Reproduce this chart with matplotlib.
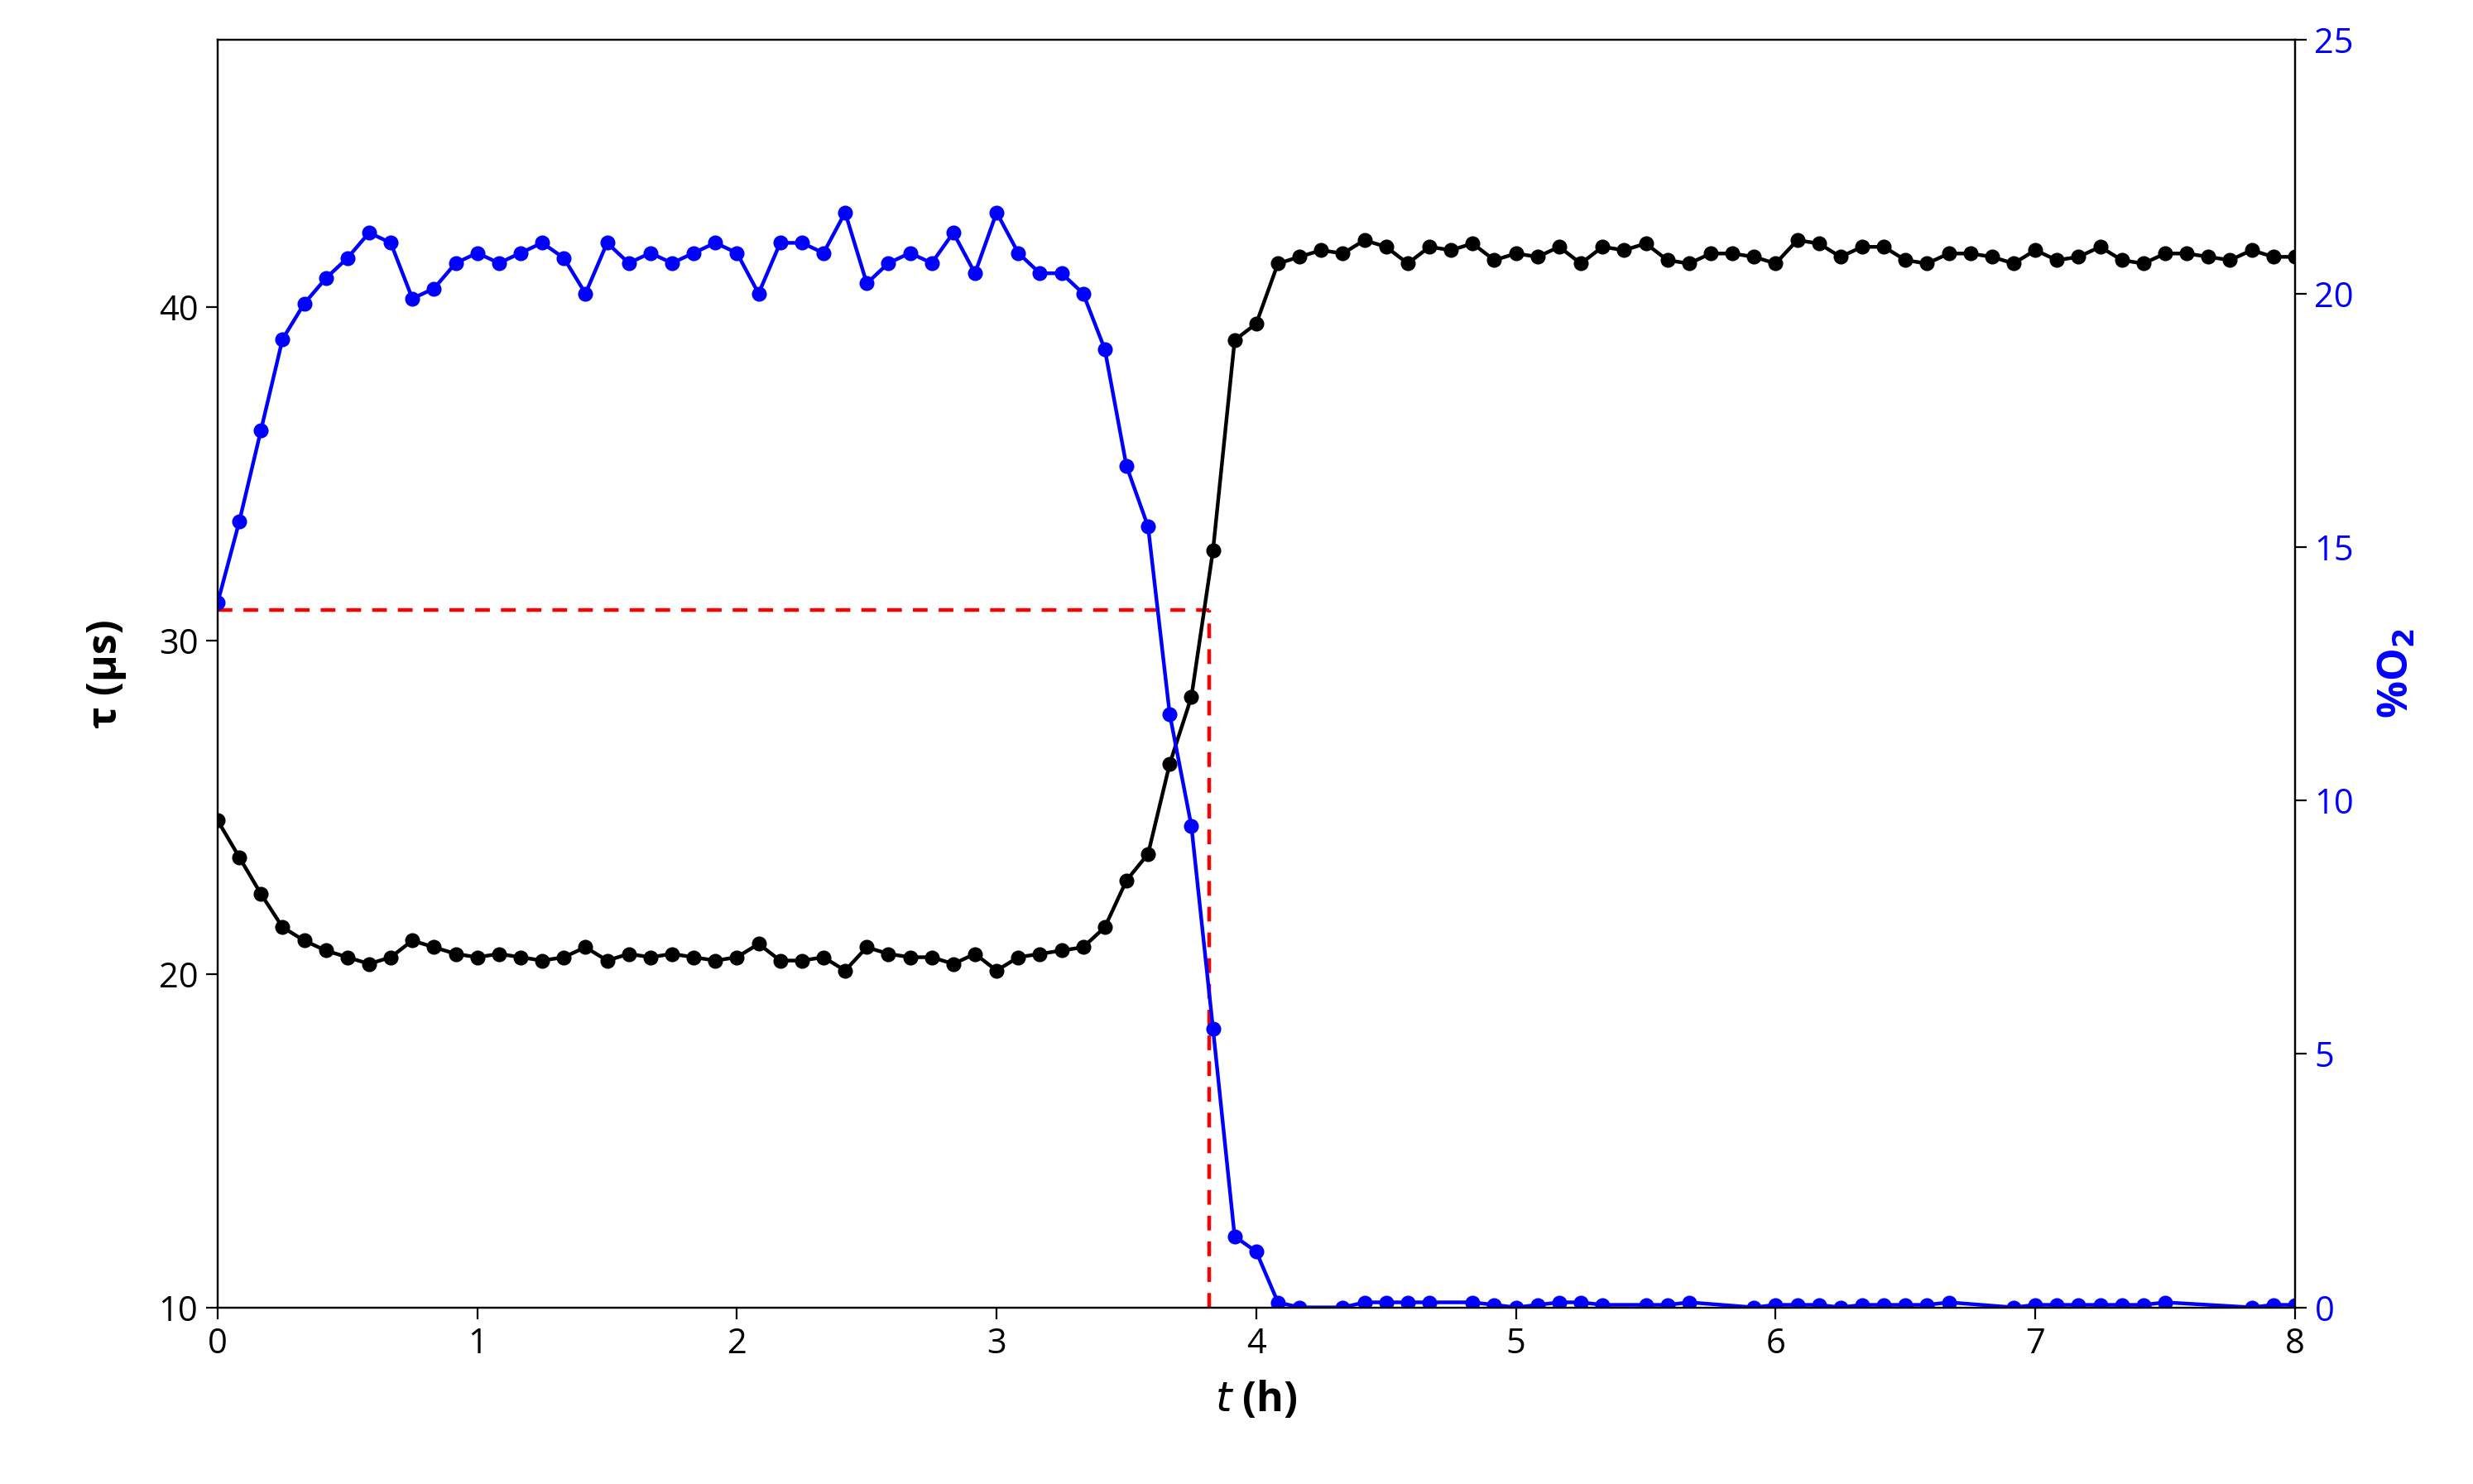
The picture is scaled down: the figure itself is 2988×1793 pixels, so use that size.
import matplotlib.pyplot as plt
import numpy as np

plt.rcParams['font.family'] = ['Open Sans', 'DejaVu Sans']

# time in hours, one reading every 5 min
t = np.arange(97) / 12.0

tau = [24.6, 23.5, 22.4, 21.4, 21.0, 20.7, 20.5, 20.3, 20.5, 21.0,
       20.8, 20.6, 20.5, 20.6, 20.5, 20.4, 20.5, 20.8, 20.4, 20.6,
       20.5, 20.6, 20.5, 20.4, 20.5, 20.9, 20.4, 20.4, 20.5, 20.1,
       20.8, 20.6, 20.5, 20.5, 20.3, 20.6, 20.1, 20.5, 20.6, 20.7,
       20.8, 21.4, 22.8, 23.6, 26.3, 28.3, 32.7, 39.0, 39.5, 41.3,
       41.5, 41.7, 41.6, 42.0, 41.8, 41.3, 41.8, 41.7, 41.9, 41.4,
       41.6, 41.5, 41.8, 41.3, 41.8, 41.7, 41.9, 41.4, 41.3, 41.6,
       41.6, 41.5, 41.3, 42.0, 41.9, 41.5, 41.8, 41.8, 41.4, 41.3,
       41.6, 41.6, 41.5, 41.3, 41.7, 41.4, 41.5, 41.8, 41.4, 41.3,
       41.6, 41.6, 41.5, 41.4, 41.7, 41.5, 41.5]

nan = np.nan
o2 = [13.9, 15.5, 17.3, 19.1, 19.8, 20.3, 20.7, 21.2, 21.0, 19.9,
      20.1, 20.6, 20.8, 20.6, 20.8, 21.0, 20.7, 20.0, 21.0, 20.6,
      20.8, 20.6, 20.8, 21.0, 20.8, 20.0, 21.0, 21.0, 20.8, 21.6,
      20.2, 20.6, 20.8, 20.6, 21.2, 20.4, 21.6, 20.8, 20.4, 20.4,
      20.0, 18.9, 16.6, 15.4, 11.7, 9.5, 5.5, 1.4, 1.1, 0.1,
      0.0, nan, 0.0, 0.1, 0.1, 0.1, 0.1, nan, 0.1, 0.05,
      0.0, 0.05, 0.1, 0.1, 0.05, nan, 0.05, 0.05, 0.1, nan,
      nan, 0.0, 0.05, 0.05, 0.05, 0.0, 0.05, 0.05, 0.05, 0.05,
      0.1, nan, nan, 0.0, 0.05, 0.05, 0.05, 0.05, 0.05, 0.05,
      0.1, nan, nan, nan, 0.0, 0.05, 0.05]

t_cross = 3.82
tau_cross = 30.9

fig = plt.figure(figsize=(14.94, 8.965), dpi=200)
ax = fig.add_axes([0.088, 0.119, 0.84, 0.854])
ax2 = ax.twinx()

ax.plot(t, tau, '-o', color='black', ms=5.5, lw=1.6, zorder=3)
o2_arr = np.array(o2, dtype=float)
mask = ~np.isnan(o2_arr)
ax2.plot(t[mask], o2_arr[mask], '-o', color='blue', lw=1.6, ms=5.5)

ax.plot([0, t_cross], [tau_cross, tau_cross], '--', color='red', lw=1.6, dashes=(4, 3))
ax.plot([t_cross, t_cross], [10, tau_cross], '--', color='red', lw=1.6, dashes=(4, 3))

ax.set_xlim(0, 8)
ax.set_ylim(10, 48)
ax2.set_ylim(0, 25)
ax.set_yticks([10, 20, 30, 40])
ax2.set_yticks([0, 5, 10, 15, 20, 25])
ax.set_xticks(range(9))

ax.tick_params(labelsize=15, direction='out', length=5)
ax2.tick_params(labelsize=15, colors='blue', direction='out', length=5)
ax2.tick_params(axis='y', color='black')

ax.set_ylabel('τ (µs)', fontsize=18, fontweight='bold', labelpad=14)
ax.set_xlabel('$\\bf{\\it{t}}$ (h)', fontsize=18, fontweight='bold', labelpad=8)
ax2.set_ylabel('%O$_\\mathbf{2}$', fontsize=18, fontweight='bold', color='blue', labelpad=10)

fig.savefig('out.png', dpi=200)
